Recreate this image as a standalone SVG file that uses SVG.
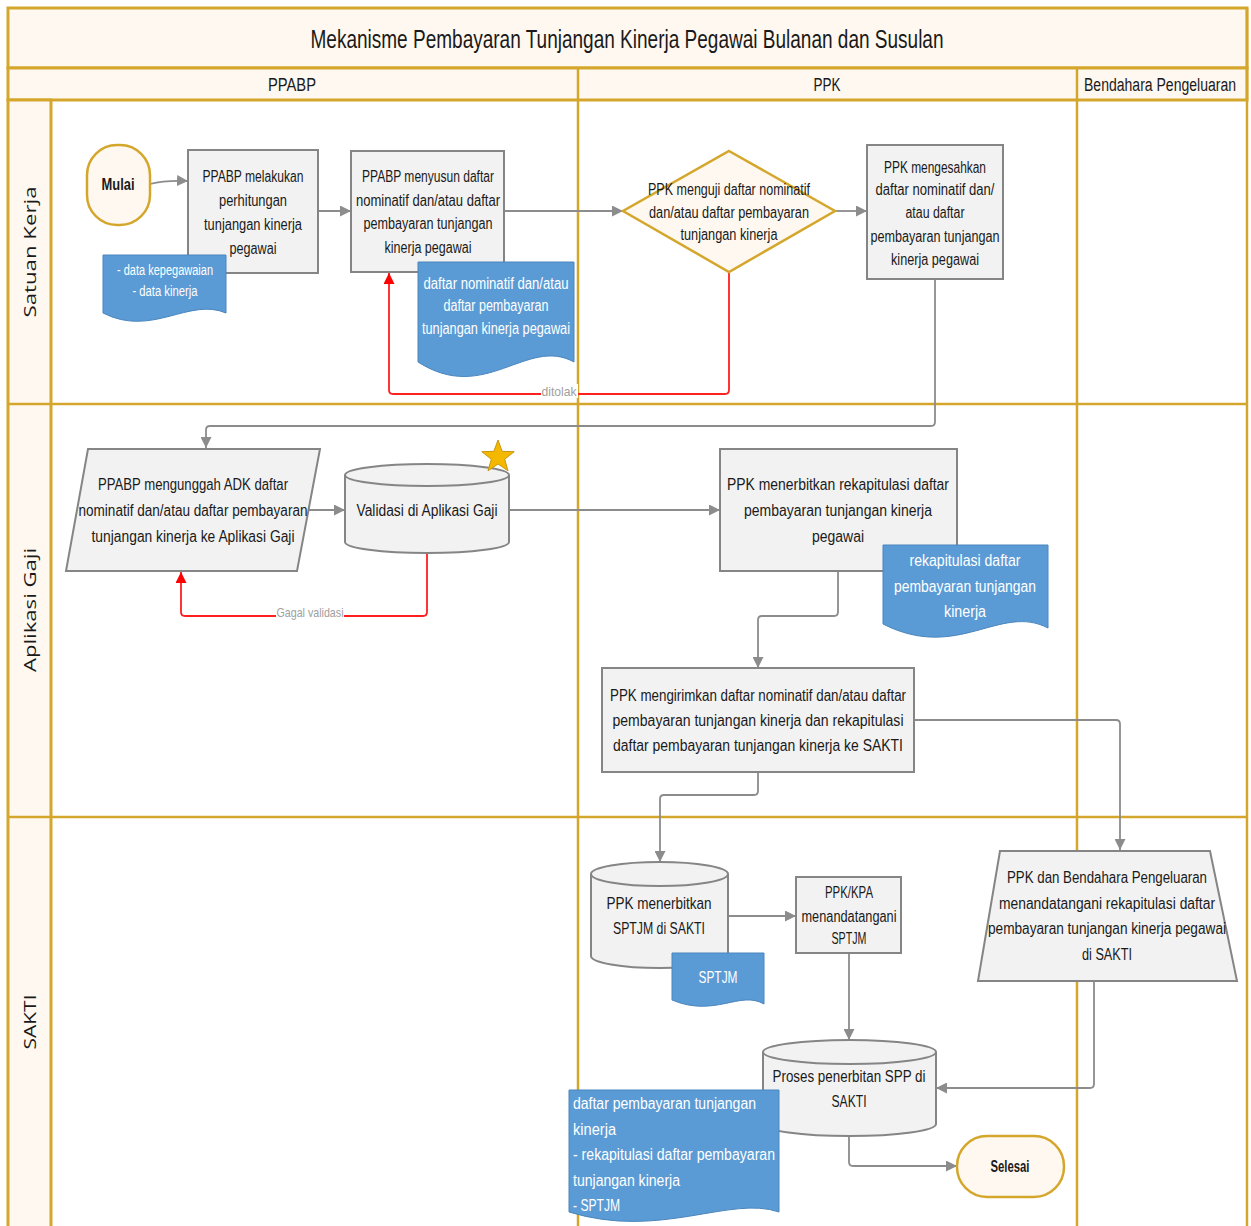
<svg xmlns="http://www.w3.org/2000/svg" width="1251" height="1226" viewBox="0 0 1251 1226">
<style>
.lane{fill:#fff8f0;stroke:#d4a72c;stroke-width:3}
.ln{stroke:#d4a72c;stroke-width:2.5;fill:none}
text{font-family:"Liberation Sans",Arial,sans-serif;font-size:16px;fill:#1a1a1a;text-anchor:middle}
.tw{fill:#ffffff}
.st{text-anchor:start}
.lbl{font-family:"Open Sans","DejaVu Sans",sans-serif;font-size:16px}
.box{fill:#f2f2f2;stroke:#858585;stroke-width:2}
.term{fill:#fff8f0;stroke:#d4a72c;stroke-width:2.5}
.doc{fill:#5b9bd5;stroke:#4a86bd;stroke-width:1}
.c{fill:none;stroke:#8c8c8c;stroke-width:1.8}
.r{fill:none;stroke:#ff2020;stroke-width:1.8}
.cl{font-size:13px;fill:#a0a0a0}
</style>
<defs>
<marker id="ag" viewBox="0 0 10 10" refX="10" refY="5" markerWidth="11" markerHeight="11" markerUnits="userSpaceOnUse" orient="auto"><path d="M0,0 L10,5 L0,10 Z" fill="#8c8c8c"/></marker>
<marker id="ar" viewBox="0 0 10 10" refX="10" refY="5" markerWidth="11" markerHeight="11" markerUnits="userSpaceOnUse" orient="auto"><path d="M0,0 L10,5 L0,10 Z" fill="#ff0000"/></marker>
</defs>
<rect width="1251" height="1226" fill="#ffffff"/>
<g id="pool">
<rect class="lane" x="8" y="8" width="1239" height="60"/>
<rect class="lane" x="8" y="68" width="1239" height="32"/>
<rect class="lane" x="8" y="100" width="43" height="1130"/>
<line class="ln" x1="8" y1="404" x2="1247" y2="404"/>
<line class="ln" x1="8" y1="817" x2="1247" y2="817"/>
<line class="ln" x1="578" y1="68" x2="578" y2="1226"/>
<line class="ln" x1="1077" y1="68" x2="1077" y2="1226"/>
<line class="ln" x1="1247" y1="8" x2="1247" y2="1226"/>
<text x="627" y="48" style="font-size:25px" textLength="633" lengthAdjust="spacingAndGlyphs">Mekanisme Pembayaran Tunjangan Kinerja Pegawai Bulanan dan Susulan</text>
<text x="292" y="91" style="font-size:19px" textLength="48" lengthAdjust="spacingAndGlyphs">PPABP</text>
<text x="827" y="91" style="font-size:19px" textLength="27" lengthAdjust="spacingAndGlyphs">PPK</text>
<text x="1160" y="91" style="font-size:18px" textLength="152" lengthAdjust="spacingAndGlyphs">Bendahara Pengeluaran</text>
<text class="lbl" transform="translate(36,252) rotate(-90)" textLength="131" lengthAdjust="spacingAndGlyphs">Satuan Kerja</text>
<text class="lbl" transform="translate(36,610) rotate(-90)" textLength="124" lengthAdjust="spacingAndGlyphs">Aplikasi Gaji</text>
<text class="lbl" transform="translate(36,1022) rotate(-90)" textLength="55" lengthAdjust="spacingAndGlyphs">SAKTI</text>
</g>
<g id="connectors">
<path class="c" d="M150,184 Q165,180 188,181" marker-end="url(#ag)"/>
<path class="c" d="M318,211 H351" marker-end="url(#ag)"/>
<path class="c" d="M504,211 H623" marker-end="url(#ag)"/>
<path class="c" d="M835,211 H867" marker-end="url(#ag)"/>
<path class="r" d="M729,272 V390 Q729,394 725,394 H393 Q389,394 389,390 V273" marker-end="url(#ar)"/>
<path class="c" d="M935,279 V422 Q935,426 931,426 H210 Q206,426 206,430 V448" marker-end="url(#ag)"/>
<path class="c" d="M304,510 H345" marker-end="url(#ag)"/>
<path class="c" d="M509,510 H720" marker-end="url(#ag)"/>
<path class="r" d="M427,553 V612 Q427,616 423,616 H185 Q181,616 181,612 V572" marker-end="url(#ar)"/>
<path class="c" d="M838,571 V612 Q838,616 834,616 H762 Q758,616 758,620 V668" marker-end="url(#ag)"/>
<path class="c" d="M914,720 H1116 Q1120,720 1120,724 V850" marker-end="url(#ag)"/>
<path class="c" d="M758,772 V791 Q758,795 754,795 H664 Q660,795 660,799 V862" marker-end="url(#ag)"/>
<path class="c" d="M728,916 H796" marker-end="url(#ag)"/>
<path class="c" d="M849,953 V1040" marker-end="url(#ag)"/>
<path class="c" d="M1094,981 V1084 Q1094,1088 1090,1088 H936" marker-end="url(#ag)"/>
<path class="c" d="M849,1136 V1162 Q849,1166 853,1166 H957" marker-end="url(#ag)"/>
<rect x="541" y="384" width="37" height="14" fill="#ffffff"/>
<text class="cl" x="559" y="396" textLength="35" lengthAdjust="spacingAndGlyphs">ditolak</text>
<rect x="276" y="606" width="68" height="14" fill="#ffffff"/>
<text class="cl" x="310" y="617" textLength="67" lengthAdjust="spacingAndGlyphs">Gagal validasi</text>
</g>
<g id="mulai">
<rect class="term" x="87" y="145" width="63" height="80" rx="30"/>
<text x="118" y="190" font-weight="bold" textLength="33" lengthAdjust="spacingAndGlyphs">Mulai</text>
</g>
<g id="hitung">
<rect class="box" x="188" y="150" width="130" height="123"/>
<text x="253" y="182" textLength="101" lengthAdjust="spacingAndGlyphs">PPABP melakukan</text>
<text x="253" y="206" textLength="68" lengthAdjust="spacingAndGlyphs">perhitungan</text>
<text x="253" y="230" textLength="98" lengthAdjust="spacingAndGlyphs">tunjangan kinerja</text>
<text x="253" y="254" textLength="47" lengthAdjust="spacingAndGlyphs">pegawai</text>
</g>
<g id="doc-data">
<path class="doc" d="M103,255 H226 V313 C189,297 152,338 103,313 Z"/>
<text class="tw" x="165" y="275" style="font-size:14px" textLength="96" lengthAdjust="spacingAndGlyphs">- data kepegawaian</text>
<text class="tw" x="165" y="296" style="font-size:14px" textLength="65" lengthAdjust="spacingAndGlyphs">- data kinerja</text>
</g>
<g id="susun">
<rect class="box" x="351" y="151" width="153" height="121"/>
<text x="428" y="182" textLength="132" lengthAdjust="spacingAndGlyphs">PPABP menyusun daftar</text>
<text x="428" y="206" textLength="144" lengthAdjust="spacingAndGlyphs">nominatif dan/atau daftar</text>
<text x="428" y="229" textLength="129" lengthAdjust="spacingAndGlyphs">pembayaran tunjangan</text>
<text x="428" y="253" textLength="87" lengthAdjust="spacingAndGlyphs">kinerja pegawai</text>
</g>
<g id="doc-nominatif">
<path class="doc" d="M418,262 H574 V362 C527,336 485,405 418,362 Z"/>
<text class="tw" x="496" y="289" textLength="145" lengthAdjust="spacingAndGlyphs">daftar nominatif dan/atau</text>
<text class="tw" x="496" y="311" textLength="105" lengthAdjust="spacingAndGlyphs">daftar pembayaran</text>
<text class="tw" x="496" y="334" textLength="148" lengthAdjust="spacingAndGlyphs">tunjangan kinerja pegawai</text>
</g>
<g id="uji">
<polygon class="term" points="729,151 835,211 729,272 623,211"/>
<text x="729" y="195" textLength="162" lengthAdjust="spacingAndGlyphs">PPK menguji daftar nominatif</text>
<text x="729" y="218" textLength="160" lengthAdjust="spacingAndGlyphs">dan/atau daftar pembayaran</text>
<text x="729" y="240" textLength="97" lengthAdjust="spacingAndGlyphs">tunjangan kinerja</text>
</g>
<g id="sahkan">
<rect class="box" x="867" y="145" width="136" height="134"/>
<text x="935" y="173" textLength="102" lengthAdjust="spacingAndGlyphs">PPK mengesahkan</text>
<text x="935" y="195" textLength="119" lengthAdjust="spacingAndGlyphs">daftar nominatif dan/</text>
<text x="935" y="218" textLength="59" lengthAdjust="spacingAndGlyphs">atau daftar</text>
<text x="935" y="242" textLength="129" lengthAdjust="spacingAndGlyphs">pembayaran tunjangan</text>
<text x="935" y="265" textLength="88" lengthAdjust="spacingAndGlyphs">kinerja pegawai</text>
</g>
<g id="unggah">
<polygon class="box" points="88,449 320,449 297,571 66,571"/>
<text x="193" y="490" textLength="190" lengthAdjust="spacingAndGlyphs">PPABP mengunggah ADK daftar</text>
<text x="193" y="516" textLength="229" lengthAdjust="spacingAndGlyphs">nominatif dan/atau daftar pembayaran</text>
<text x="193" y="542" textLength="203" lengthAdjust="spacingAndGlyphs">tunjangan kinerja ke Aplikasi Gaji</text>
</g>
<g id="validasi">
<path class="box" d="M345,475 A82,11 0 0 1 509,475 V542 A82,11 0 0 1 345,542 Z"/>
<path class="box" d="M345,475 A82,11 0 0 0 509,475" fill="none"/>
<text x="427" y="516" textLength="141" lengthAdjust="spacingAndGlyphs">Validasi di Aplikasi Gaji</text>
<polygon points="498,440 502.1,451.3 514.2,451.7 504.7,459.2 508,470.8 498,464 488,470.8 491.3,459.2 481.8,451.7 493.9,451.3" fill="#f5b800" stroke="#c8960c" stroke-width="1"/>
</g>
<g id="rekap">
<rect class="box" x="720" y="449" width="237" height="122"/>
<text x="838" y="490" textLength="222" lengthAdjust="spacingAndGlyphs">PPK menerbitkan rekapitulasi daftar</text>
<text x="838" y="516" textLength="188" lengthAdjust="spacingAndGlyphs">pembayaran tunjangan kinerja</text>
<text x="838" y="542" textLength="52" lengthAdjust="spacingAndGlyphs">pegawai</text>
</g>
<g id="doc-rekap">
<path class="doc" d="M883,545 H1048 V628 C1000,603 958,662 883,624 Z"/>
<text class="tw" x="965" y="566" textLength="111" lengthAdjust="spacingAndGlyphs">rekapitulasi daftar</text>
<text class="tw" x="965" y="592" textLength="142" lengthAdjust="spacingAndGlyphs">pembayaran tunjangan</text>
<text class="tw" x="965" y="617" textLength="42" lengthAdjust="spacingAndGlyphs">kinerja</text>
</g>
<g id="kirim">
<rect class="box" x="602" y="668" width="312" height="104"/>
<text x="758" y="701" textLength="296" lengthAdjust="spacingAndGlyphs">PPK mengirimkan daftar nominatif dan/atau daftar</text>
<text x="758" y="726" textLength="291" lengthAdjust="spacingAndGlyphs">pembayaran tunjangan kinerja dan rekapitulasi</text>
<text x="758" y="751" textLength="290" lengthAdjust="spacingAndGlyphs">daftar pembayaran tunjangan kinerja  ke SAKTI</text>
</g>
<g id="sptjm-cyl">
<path class="box" d="M591,874 A68.5,12 0 0 1 728,874 V956 A68.5,12 0 0 1 591,956 Z"/>
<path class="box" d="M591,874 A68.5,12 0 0 0 728,874" fill="none"/>
<text x="659" y="909" textLength="105" lengthAdjust="spacingAndGlyphs">PPK menerbitkan</text>
<text x="659" y="934" textLength="92" lengthAdjust="spacingAndGlyphs">SPTJM di SAKTI</text>
</g>
<g id="doc-sptjm">
<path class="doc" d="M672,953 H764 V1004 C740,990 715,1018 672,1000 Z"/>
<text class="tw" x="718" y="983" textLength="39" lengthAdjust="spacingAndGlyphs">SPTJM</text>
</g>
<g id="kpa">
<rect class="box" x="796" y="877" width="105" height="76"/>
<text x="849" y="898" textLength="48" lengthAdjust="spacingAndGlyphs">PPK/KPA</text>
<text x="849" y="922" textLength="95" lengthAdjust="spacingAndGlyphs">menandatangani</text>
<text x="849" y="944" textLength="35" lengthAdjust="spacingAndGlyphs">SPTJM</text>
</g>
<g id="spp">
<path class="box" d="M763,1052 A86.5,12 0 0 1 936,1052 V1124 A86.5,12 0 0 1 763,1124 Z"/>
<path class="box" d="M763,1052 A86.5,12 0 0 0 936,1052" fill="none"/>
<text x="849" y="1082" textLength="153" lengthAdjust="spacingAndGlyphs">Proses penerbitan SPP di</text>
<text x="849" y="1107" textLength="35" lengthAdjust="spacingAndGlyphs">SAKTI</text>
</g>
<g id="tandatangan">
<polygon class="box" points="1000,851 1210,851 1237,981 978,981"/>
<text x="1107" y="883" textLength="200" lengthAdjust="spacingAndGlyphs">PPK dan Bendahara Pengeluaran</text>
<text x="1107" y="909" textLength="216" lengthAdjust="spacingAndGlyphs">menandatangani rekapitulasi daftar</text>
<text x="1107" y="934" textLength="238" lengthAdjust="spacingAndGlyphs">pembayaran tunjangan kinerja pegawai</text>
<text x="1107" y="960" textLength="50" lengthAdjust="spacingAndGlyphs">di SAKTI</text>
</g>
<g id="doc-akhir">
<path class="doc" d="M569,1090 H779 V1212 C730,1195 660,1240 569,1212 Z"/>
<text class="tw st" x="573" y="1109" textLength="183" lengthAdjust="spacingAndGlyphs">daftar pembayaran tunjangan</text>
<text class="tw st" x="573" y="1135" textLength="43" lengthAdjust="spacingAndGlyphs">kinerja</text>
<text class="tw st" x="573" y="1160" textLength="202" lengthAdjust="spacingAndGlyphs">- rekapitulasi daftar pembayaran</text>
<text class="tw st" x="573" y="1186" textLength="107" lengthAdjust="spacingAndGlyphs">tunjangan kinerja</text>
<text class="tw st" x="573" y="1211" textLength="47" lengthAdjust="spacingAndGlyphs">- SPTJM</text>
</g>
<g id="selesai">
<rect class="term" x="957" y="1136" width="107" height="61" rx="30"/>
<text x="1010" y="1172" font-weight="bold" textLength="39" lengthAdjust="spacingAndGlyphs">Selesai</text>
</g>
</svg>
